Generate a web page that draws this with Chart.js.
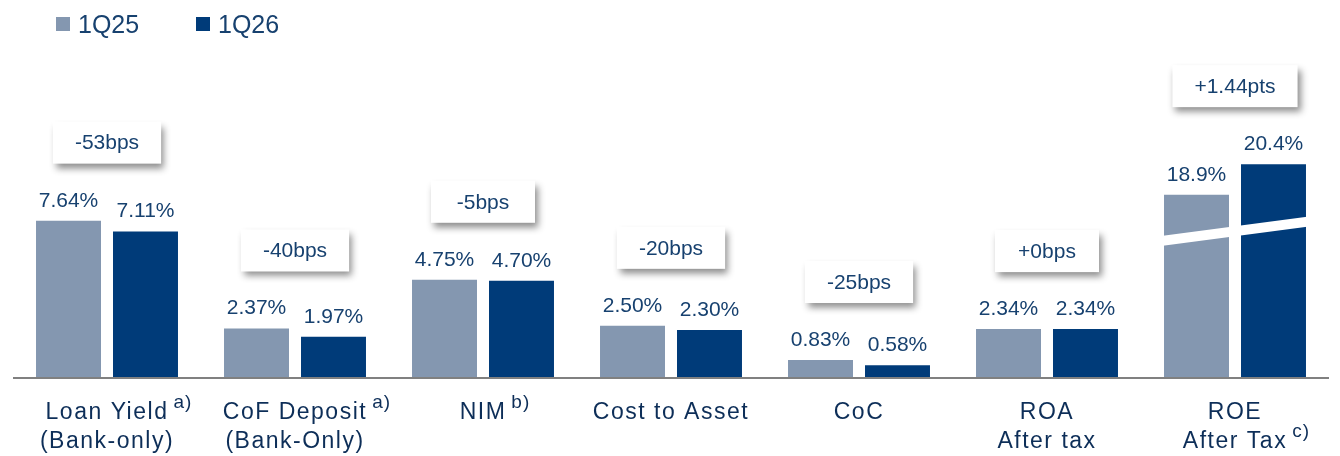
<!DOCTYPE html>
<html>
<head>
<meta charset="utf-8">
<script src="https://cdn.jsdelivr.net/npm/chart.js@4/dist/chart.umd.min.js"></script>
<style>
    html, body { margin: 0; padding: 0; background: #ffffff; }
    #wrap { width: 1340px; height: 456px; position: relative; }
</style>
</head>
<body>
<div id="wrap"><canvas id="kpiChart" width="1340" height="456"></canvas></div>
<script>
const categories = [
    ['Loan Yield', '(Bank-only)'],
    ['CoF Deposit', '(Bank-Only)'],
    ['NIM'],
    ['Cost to Asset'],
    ['CoC'],
    ['ROA', 'After tax'],
    ['ROE', 'After Tax']
];
const footnotes = ['a)', 'a)', 'b)', '', '', '', 'c)'];
const footnoteLine = [0, 0, 0, 0, 0, 0, 1];
const seriesNames = ['1Q25', '1Q26'];
const values1Q25 = [7.64, 2.37, 4.75, 2.50, 0.83, 2.34, 18.9];
const values1Q26 = [7.11, 1.97, 4.70, 2.30, 0.58, 2.34, 20.4];
const labels1Q25 = ['7.64%', '2.37%', '4.75%', '2.50%', '0.83%', '2.34%', '18.9%'];
const labels1Q26 = ['7.11%', '1.97%', '4.70%', '2.30%', '0.58%', '2.34%', '20.4%'];
const changes = ['-53bps', '-40bps', '-5bps', '-20bps', '-25bps', '+0bps', '+1.44pts'];
// part of the bar cut away by the axis break (ROE only)
const breakCut = [0, 0, 0, 0, 0, 0, 10];

const colors = ['#8497b0', '#003b79'];
const textColor = '#17416f';
const axisTextColor = '#0d2e58';
const fontFamily = '"Liberation Sans", Arial, sans-serif';

const chartDecor = {
    id: 'chartDecor',
    afterDatasetsDraw(chart) {
        const ctx = chart.ctx;
        const area = chart.chartArea;
        const x = chart.scales.x;
        const y = chart.scales.y;
        const m0 = chart.getDatasetMeta(0);
        const m1 = chart.getDatasetMeta(1);
        ctx.save();

        // axis break on broken bars
        categories.forEach((c, i) => {
            if (!breakCut[i]) return;
            const b0 = m0.data[i], b1 = m1.data[i];
            const xl = b0.x - b0.width / 2 - 3;
            const xr = b1.x + b1.width / 2 + 3;
            const yl = y.getPixelForValue(6.65);
            const yr = y.getPixelForValue(7.6);
            ctx.fillStyle = '#ffffff';
            ctx.beginPath();
            ctx.moveTo(xl, yl - 5);
            ctx.lineTo(xr, yr - 5);
            ctx.lineTo(xr, yr + 5);
            ctx.lineTo(xl, yl + 5);
            ctx.closePath();
            ctx.fill();
        });

        // base line
        ctx.strokeStyle = '#808080';
        ctx.lineWidth = 2;
        ctx.beginPath();
        ctx.moveTo(area.left, area.bottom + 1);
        ctx.lineTo(area.right, area.bottom + 1);
        ctx.stroke();

        // value labels
        ctx.fillStyle = textColor;
        ctx.font = '21px ' + fontFamily;
        ctx.textAlign = 'center';
        ctx.textBaseline = 'alphabetic';
        [[m0, labels1Q25], [m1, labels1Q26]].forEach(([meta, labels]) => {
            meta.data.forEach((bar, i) => {
                ctx.fillText(labels[i], bar.x, bar.y - 14);
            });
        });

        // change boxes
        categories.forEach((c, i) => {
            const top = Math.min(m0.data[i].y, m1.data[i].y);
            const cx = x.getPixelForValue(i);
            const cy = top - 78;
            ctx.font = '21px ' + fontFamily;
            const w = Math.max(104, ctx.measureText(changes[i]).width + 44);
            const h = 42;
            ctx.save();
            ctx.shadowColor = 'rgba(0, 0, 0, 0.45)';
            ctx.shadowBlur = 7;
            ctx.shadowOffsetX = 3;
            ctx.shadowOffsetY = 5;
            ctx.fillStyle = '#ffffff';
            ctx.fillRect(cx - w / 2, cy - h / 2, w, h);
            ctx.restore();
            ctx.fillStyle = textColor;
            ctx.textAlign = 'center';
            ctx.textBaseline = 'middle';
            ctx.fillText(changes[i], cx, cy + 1);
        });

        // category labels with footnote marks
        ctx.textBaseline = 'alphabetic';
        categories.forEach((lines, i) => {
            const cx = x.getPixelForValue(i);
            lines.forEach((line, j) => {
                const by = area.bottom + 42 + j * 29;
                ctx.font = '23px ' + fontFamily;
                ctx.letterSpacing = '1.5px';
                ctx.fillStyle = axisTextColor;
                ctx.textAlign = 'center';
                ctx.fillText(line, cx, by);
                if (footnotes[i] && j === footnoteLine[i]) {
                    const tw = ctx.measureText(line).width;
                    ctx.font = '19px ' + fontFamily;
                    ctx.letterSpacing = '1px';
                    ctx.textAlign = 'left';
                    ctx.fillText(footnotes[i], cx + tw / 2 + 5, by - 11);
                }
            });
        });
        ctx.letterSpacing = '0px';

        // legend
        seriesNames.forEach((name, k) => {
            const lx = 56 + k * 140;
            ctx.fillStyle = colors[k];
            ctx.fillRect(lx, 17, 14, 14);
            ctx.fillStyle = textColor;
            ctx.font = '25px ' + fontFamily;
            ctx.textAlign = 'left';
            ctx.fillText(name, lx + 22, 33);
        });

        ctx.restore();
    }
};

document.addEventListener('DOMContentLoaded', function () {
    const ctx = document.getElementById('kpiChart').getContext('2d');

    const data = {
        labels: categories,
        datasets: [{
            label: seriesNames[0],
            data: values1Q25.map((v, i) => v - breakCut[i]),
            backgroundColor: colors[0],
            borderWidth: 0
        }, {
            label: seriesNames[1],
            data: values1Q26.map((v, i) => v - breakCut[i]),
            backgroundColor: colors[1],
            borderWidth: 0
        }]
    };

    new Chart(ctx, {
        type: 'bar',
        data: data,
        options: {
            responsive: false,
            animation: false,
            categoryPercentage: 0.819,
            barPercentage: 0.844,
            layout: {
                padding: { left: 13, right: 11, top: 70, bottom: 79 }
            },
            scales: {
                x: { display: false },
                y: { display: false, min: 0, max: 15 }
            },
            plugins: {
                legend: { display: false },
                tooltip: { enabled: false }
            }
        },
        plugins: [chartDecor]
    });
});
</script>
</body>
</html>
